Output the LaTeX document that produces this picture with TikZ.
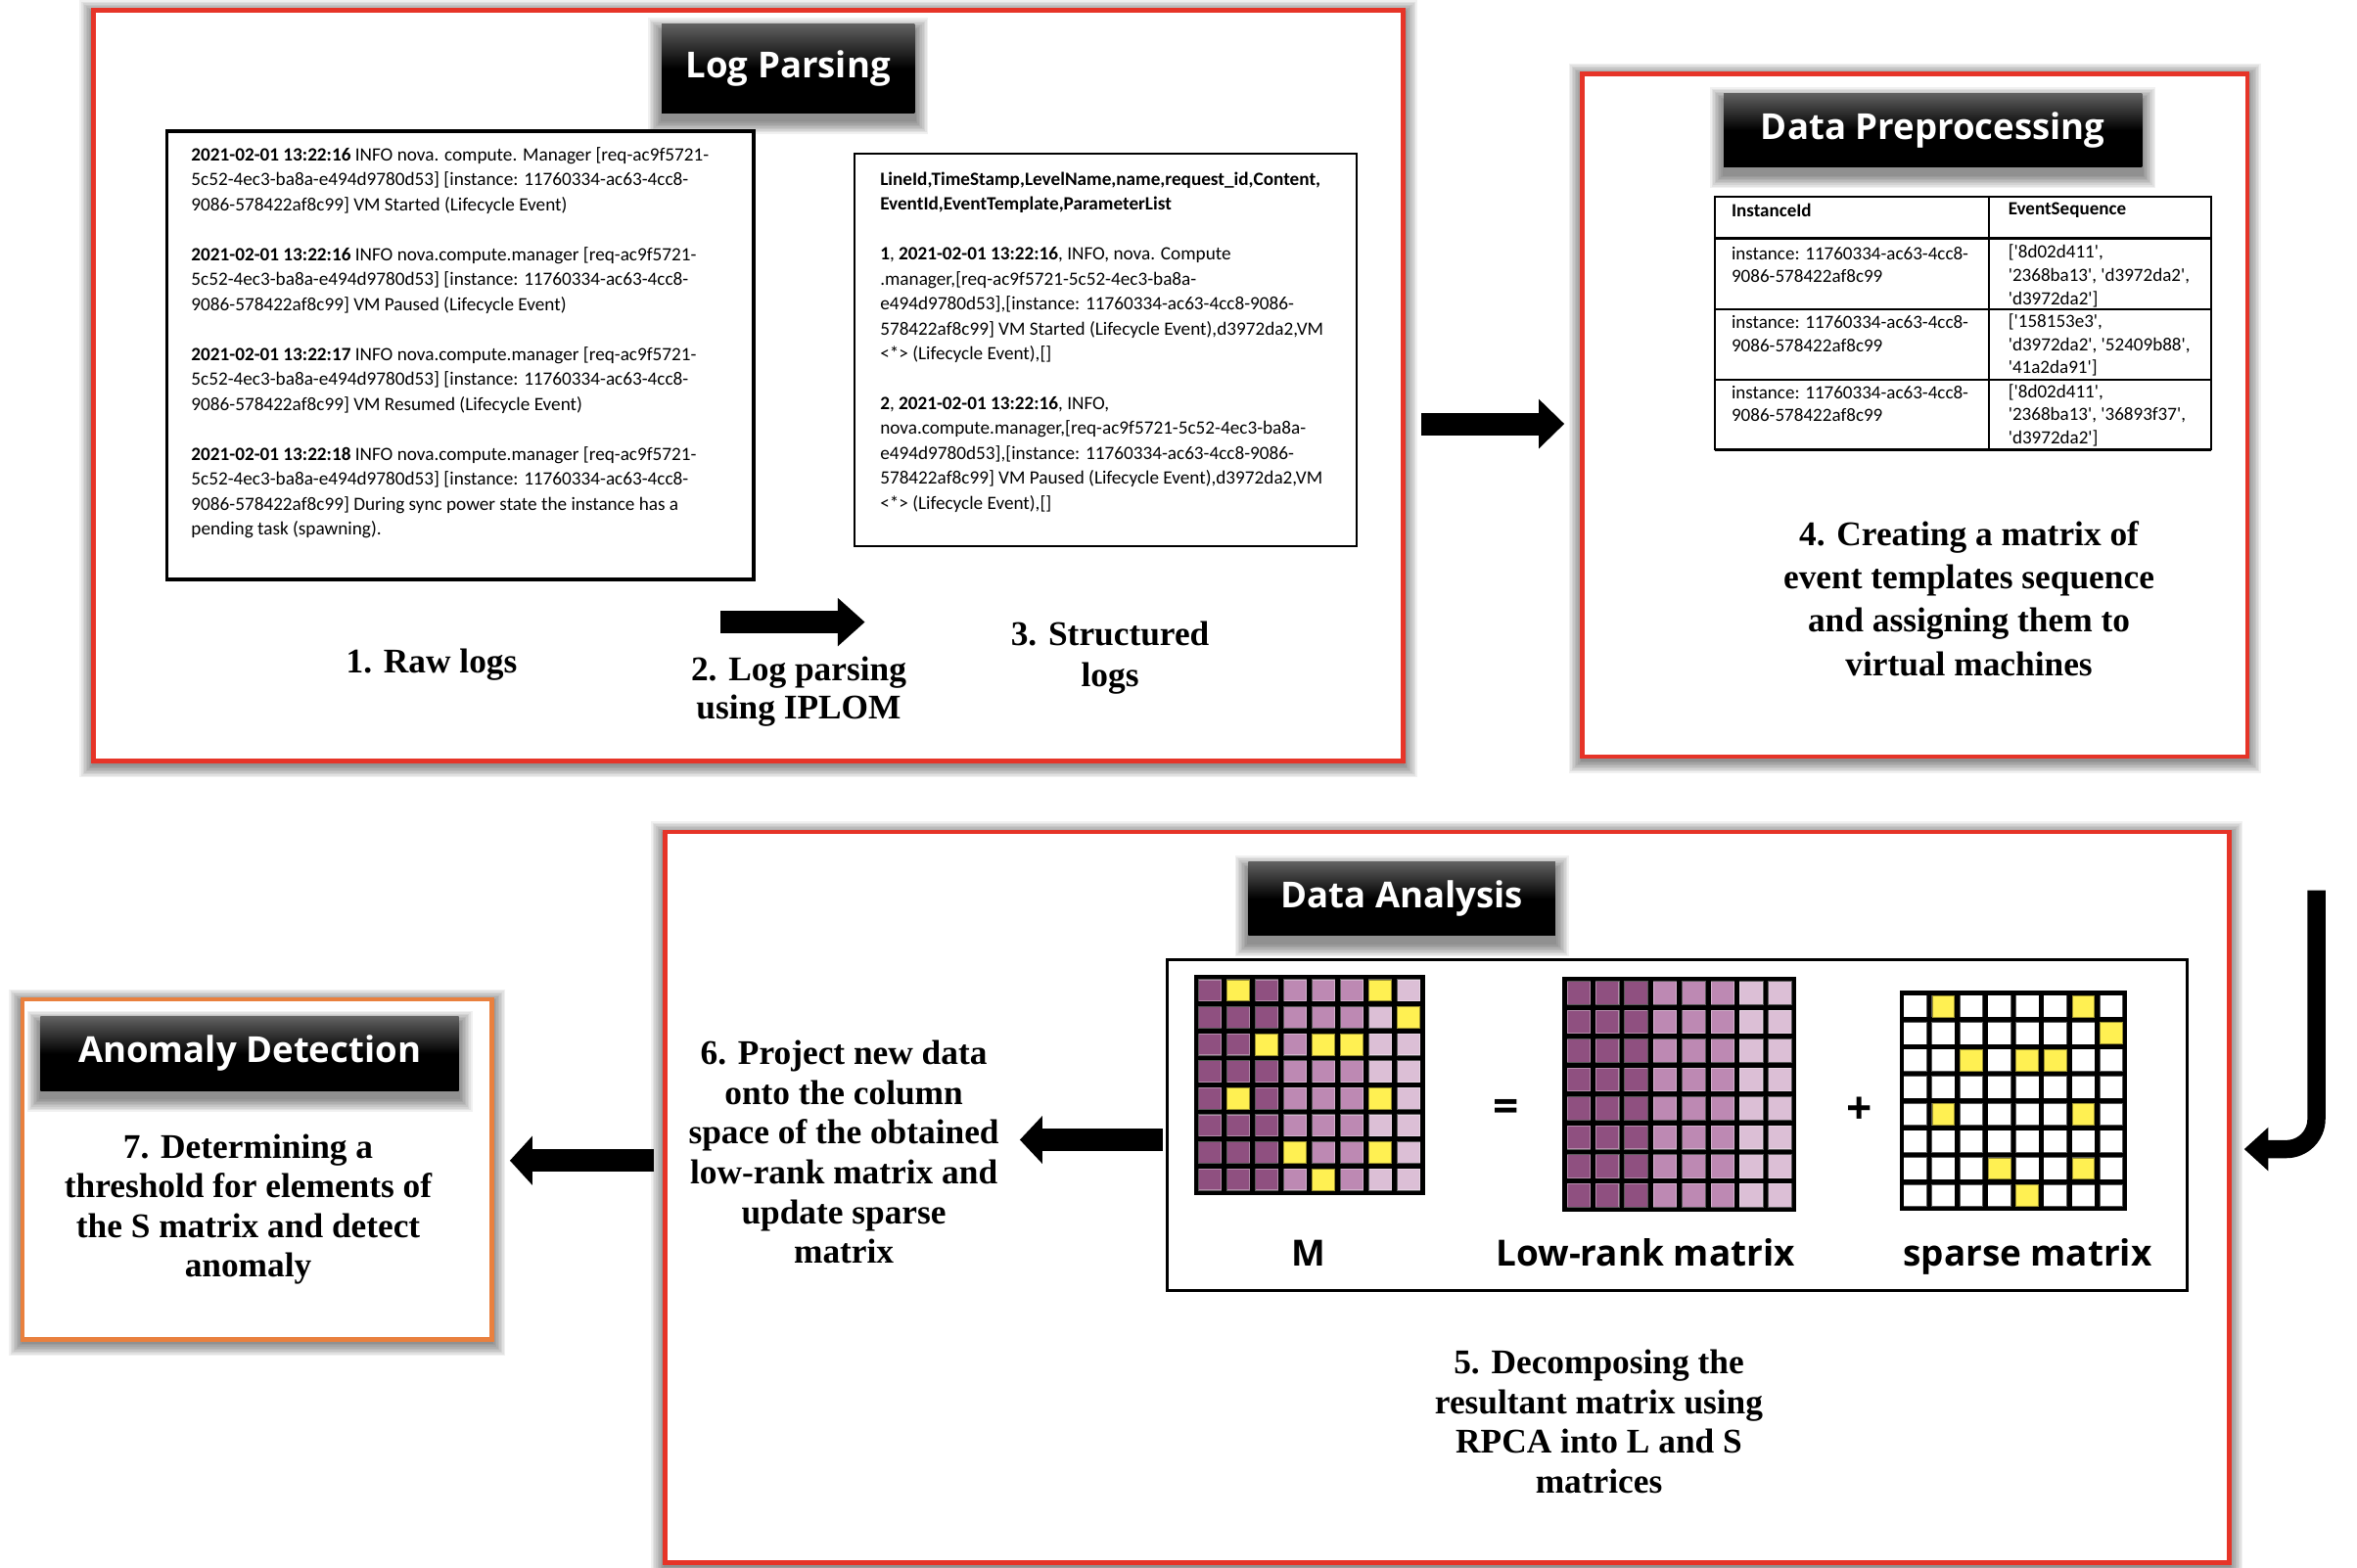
\documentclass[tikz,border=0pt]{standalone}
\usepackage{fontspec}
\setmainfont{Liberation Serif}
\newfontfamily\logfont{Carlito}
\newfontfamily\headfont{Open Sans}
\usetikzlibrary{arrows.meta}
\definecolor{boxred}{RGB}{230,52,40}
\definecolor{boxorange}{RGB}{233,128,62}
\definecolor{pdark}{RGB}{143,80,128}
\definecolor{pmed}{RGB}{189,137,179}
\definecolor{plight}{RGB}{220,191,214}
\definecolor{myyellow}{RGB}{255,240,82}
\newcommand\sq{\textquotesingle}
\newcommand\softshadow[5]{%
  \foreach \si in {1,...,9}{\fill[black,opacity=0.06] ({#1-\si},{#2-\si+#5}) rectangle ({#3+\si},{#4+\si+#5});}}
\newcommand\mxgrid[6]{%
  \fill[black] ({#1-1.2},{#2-1.2}) rectangle ({#3+1.2},{#4+1.2});
  \pgfmathsetmacro\mxw{(#3-#1)/8}%
  \pgfmathsetmacro\mxh{(#4-#2)/8}%
  \foreach \mr in {1,...,8}{\foreach \mc in {1,...,8}{%
    \ifnum#5=1 \ifnum\mc<4 \def\mxc{pdark}\else\ifnum\mc<7 \def\mxc{pmed}\else\def\mxc{plight}\fi\fi\else\def\mxc{white}\fi
    \filldraw[fill=\mxc, draw=white, draw opacity=0.35, line width=0.7pt] ({#1+(\mc-1)*\mxw+1.9},{#2+(\mr-1)*\mxh+1.9}) rectangle ({#1+\mc*\mxw-1.9},{#2+\mr*\mxh-1.9});
  }}%
  \ifnum#6=1 \foreach \mr/\mc in {1/2,1/7,2/8,3/3,3/5,3/6,5/2,5/7,7/4,7/7,8/5}{%
    \filldraw[fill=myyellow, draw=black!40!myyellow, line width=0.5pt] ({#1+(\mc-1)*\mxw+1.9},{#2+(\mr-1)*\mxh+1.9}) rectangle ({#1+\mc*\mxw-1.9},{#2+\mr*\mxh-1.9});}\fi
}
\tikzset{
  redbox/.style={draw=boxred, line width=3pt, fill=white, inner sep=0},
  orangebox/.style={draw=boxorange, line width=3pt, fill=white, inner sep=0},
  titlebox/.style={inner sep=0, top color=black!62, bottom color=black, middle color=black, text=white, font=\headfont\bfseries\fontsize{23.8}{28}\selectfont},
  logtext/.style={font=\logfont\fontsize{12.5}{16.6}\selectfont, align=left, anchor=west, inner sep=0},
  tbtext/.style={font=\logfont\fontsize{12.4}{15.4}\selectfont, align=left, anchor=west, inner sep=0},
  steptext/.style={font=\bfseries\fontsize{23}{26.4}\selectfont, align=center, inner sep=0},
  mlabel/.style={font=\headfont\bfseries\fontsize{24}{28}\selectfont, anchor=base, inner sep=0},
  blockarrow/.style={line width=15pt, black},
}
\begin{document}
\begin{tikzpicture}[x=1pt,y=-1pt]
\useasboundingbox (0,0) rectangle (1567,1042);
\fill[white] (0,0) rectangle (1567,1042);

% ---------- Log Parsing ----------
\softshadow{62}{7}{933}{506}{2}
\node[redbox, minimum width=871pt, minimum height=499pt] (lp) at (497.5,256.5) {};
\softshadow{440}{16}{608}{75}{5}
\node[titlebox, minimum width=168pt, minimum height=59pt] (lpt) at (524,45.5) {Log Parsing};

\node[draw, line width=2.5pt, fill=white, inner sep=0, minimum width=390pt, minimum height=298pt] (raw) at (306,236) {};
\node[logtext] (rawtxt) at (127,228) {%
\textbf{2021-02-01 13:22:16} INFO nova. compute. Manager [req-ac9f5721-\\
5c52-4ec3-ba8a-e494d9780d53] [instance: 11760334-ac63-4cc8-\\
9086-578422af8c99] VM Started (Lifecycle Event)\\[16.6pt]
\textbf{2021-02-01 13:22:16} INFO nova.compute.manager [req-ac9f5721-\\
5c52-4ec3-ba8a-e494d9780d53] [instance: 11760334-ac63-4cc8-\\
9086-578422af8c99] VM Paused (Lifecycle Event)\\[16.6pt]
\textbf{2021-02-01 13:22:17} INFO nova.compute.manager [req-ac9f5721-\\
5c52-4ec3-ba8a-e494d9780d53] [instance: 11760334-ac63-4cc8-\\
9086-578422af8c99] VM Resumed (Lifecycle Event)\\[16.6pt]
\textbf{2021-02-01 13:22:18} INFO nova.compute.manager [req-ac9f5721-\\
5c52-4ec3-ba8a-e494d9780d53] [instance: 11760334-ac63-4cc8-\\
9086-578422af8c99] During sync power state the instance has a\\
pending task (spawning).};

\node[draw, line width=1.5pt, fill=white, inner sep=0, minimum width=334pt, minimum height=261pt] (struct) at (735,232.5) {};
\node[logtext] (structtxt) at (585,227.5) {%
\textbf{LineId,TimeStamp,LevelName,name,request\_id,Content,}\\
\textbf{EventId,EventTemplate,ParameterList}\\[16.5pt]
\textbf{1}, \textbf{2021-02-01 13:22:16}, INFO, nova. Compute\\
.manager,[req-ac9f5721-5c52-4ec3-ba8a-\\
e494d9780d53],[instance: 11760334-ac63-4cc8-9086-\\
578422af8c99] VM Started (Lifecycle Event),d3972da2,VM\\
<*> (Lifecycle Event),[]\\[16.5pt]
\textbf{2}, \textbf{2021-02-01 13:22:16}, INFO,\\
nova.compute.manager,[req-ac9f5721-5c52-4ec3-ba8a-\\
e494d9780d53],[instance: 11760334-ac63-4cc8-9086-\\
578422af8c99] VM Paused (Lifecycle Event),d3972da2,VM\\
<*> (Lifecycle Event),[]};

\node[steptext] (s1) at (287,442) {1. Raw logs};
\node[steptext, font=\bfseries\fontsize{23}{25.5}\selectfont] (s2) at (531,460) {2. Log parsing\\using IPLOM};
\node[steptext, font=\bfseries\fontsize{23}{27.6}\selectfont] (s3) at (738,437.5) {3. Structured\\logs};

\coordinate (a2s) at (479,413.6);
\coordinate (a2e) at (575,413.6);
\draw[blockarrow, -{Triangle[length=18pt,width=31pt]}] (a2s) -- (a2e);

% ---------- Data Preprocessing ----------
\softshadow{1052}{49}{1494}{503}{2}
\node[redbox, minimum width=442pt, minimum height=454pt] (dp) at (1273,276) {};
\softshadow{1146}{62}{1424}{111}{5}
\node[titlebox, minimum width=278pt, minimum height=49pt] (dpt) at (1285,86.5) {Data Preprocessing};

\draw[line width=1.3pt] (1140,130.5) rectangle (1470,299);
\draw[line width=1.3pt] (1322,130.5) -- (1322,299);
\draw[line width=1.6pt] (1140,158.5) -- (1470,158.5);
\draw[line width=1.3pt] (1140,205.5) -- (1470,205.5);
\draw[line width=1.3pt] (1140,252.5) -- (1470,252.5);
\draw[line width=1.8pt] (1140,299) -- (1470,299);
\node[tbtext] (th1) at (1151,140) {\textbf{InstanceId}};
\node[tbtext] (th2) at (1335,140) {\textbf{EventSequence}};
\node[tbtext] (t11) at (1151,176) {instance: 11760334-ac63-4cc8-\\9086-578422af8c99};
\node[tbtext] (t12) at (1335,183.5) {[\sq8d02d411\sq,\\\sq2368ba13\sq, \sq d3972da2\sq,\\\sq d3972da2\sq]};
\node[tbtext] (t21) at (1151,222) {instance: 11760334-ac63-4cc8-\\9086-578422af8c99};
\node[tbtext] (t22) at (1335,229.5) {[\sq158153e3\sq,\\\sq d3972da2\sq, \sq52409b88\sq,\\\sq41a2da91\sq]};
\node[tbtext] (t31) at (1151,268.5) {instance: 11760334-ac63-4cc8-\\9086-578422af8c99};
\node[tbtext] (t32) at (1335,276) {[\sq8d02d411\sq,\\\sq2368ba13\sq, \sq36893f37\sq,\\\sq d3972da2\sq]};

\node[steptext, font=\bfseries\fontsize{23}{28.8}\selectfont] (s4) at (1309,398) {4. Creating a matrix of\\event templates sequence\\and assigning them to\\virtual machines};

\coordinate (a1s) at (945,281.8);
\coordinate (a1e) at (1040,281.8);
\draw[blockarrow, -{Triangle[length=17pt,width=32pt]}] (a1s) -- (a1e);

% ---------- Data Analysis ----------
\softshadow{442}{553}{1482}{1039}{2}
\node[redbox, minimum width=1040pt, minimum height=486pt] (da) at (962,796) {};
\softshadow{830}{573}{1034}{622}{5}
\node[titlebox, minimum width=204pt, minimum height=49pt] (dat) at (932,597.5) {Data Analysis};

\node[draw=black, line width=1.5pt, fill=white, inner sep=0, minimum width=678pt, minimum height=220pt] (inner) at (1115,748) {};
\mxgrid{795}{649.5}{946}{793.2}{1}{1}
\mxgrid{1040}{650.5}{1193}{804.3}{1}{0}
\mxgrid{1264}{660}{1413}{803.8}{0}{1}
\node[font=\headfont\bfseries\fontsize{30}{30}\selectfont, inner sep=0] (eq) at (1001,738.6) {=};
\node[font=\headfont\bfseries\fontsize{30}{30}\selectfont, inner sep=0] (plus) at (1236,738.6) {+};
\node[mlabel] (lm) at (870,842) {M};
\node[mlabel] (ll) at (1094,842) {Low-rank matrix};
\node[mlabel] (ls) at (1348,842) {sparse matrix};

\node[steptext] (s5) at (1063,945) {5. Decomposing the\\resultant matrix using\\RPCA into L and S\\matrices};
\node[steptext] (s6) at (561,766) {6. Project new data\\onto the column\\space of the obtained\\low-rank matrix and\\update sparse\\matrix};

\coordinate (a6s) at (773,757.8);
\coordinate (a6e) at (678,757.8);
\draw[blockarrow, -{Triangle[length=15pt,width=31pt]}] (a6s) -- (a6e);

% ---------- Anomaly Detection ----------
\softshadow{15}{664.6}{327}{890.4}{2}
\node[orangebox, minimum width=312pt, minimum height=226pt] (ad) at (171,777.5) {};
\softshadow{27}{676}{305}{725}{5}
\node[titlebox, minimum width=278pt, minimum height=49pt] (adt) at (166,700.5) {Anomaly Detection};
\node[steptext] (s7) at (165,804) {7. Determining a\\threshold for elements of\\the S matrix and detect\\anomaly};

\coordinate (a7s) at (435,771.6);
\coordinate (a7e) at (339,771.6);
\draw[blockarrow, -{Triangle[length=15pt,width=32pt]}] (a7s) -- (a7e);

% ---------- hook arrow ----------
\coordinate (hks) at (1540,592);
\coordinate (hke) at (1492,764);
\draw[line width=12pt, rounded corners=20pt, -{Triangle[length=16pt,width=28pt]}] (hks) |- (hke);
\end{tikzpicture}
\end{document}
